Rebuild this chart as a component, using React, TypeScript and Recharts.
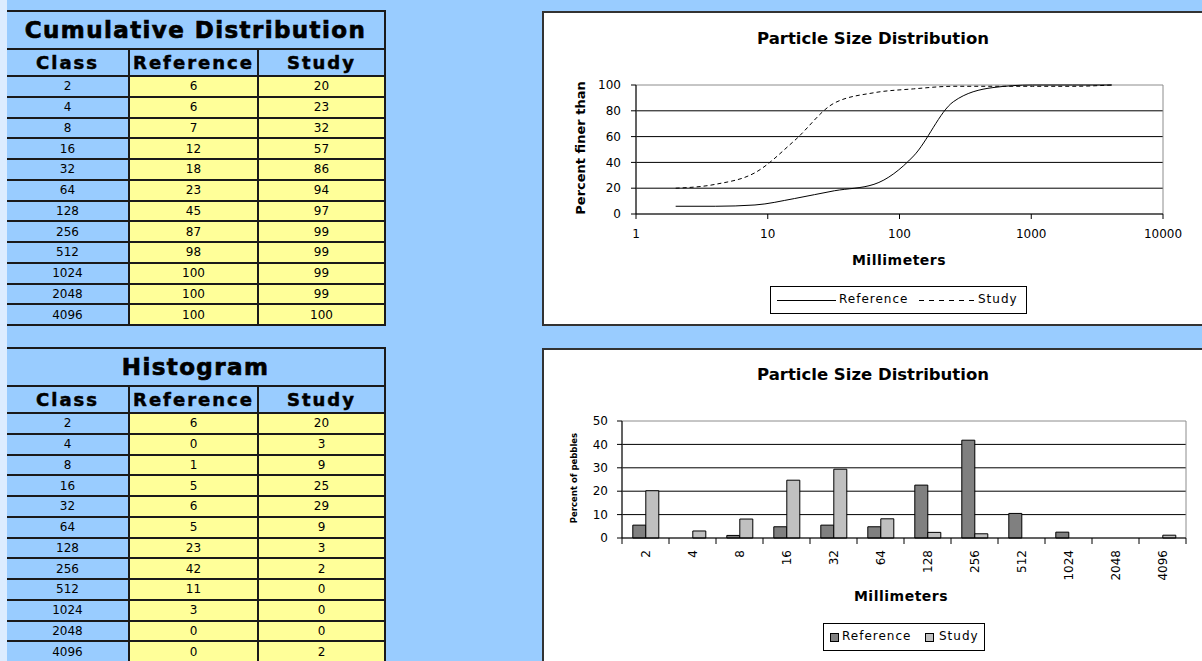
import React from "react";
import {
  LineChart,
  Line,
  BarChart,
  Bar,
  XAxis,
  YAxis,
  CartesianGrid,
  ReferenceArea,
} from "recharts";

const SIZE_CLASSES = [2, 4, 8, 16, 32, 64, 128, 256, 512, 1024, 2048, 4096];

// table values (rounded, as printed in the sheet)
const CUM_REFERENCE = [6, 6, 7, 12, 18, 23, 45, 87, 98, 100, 100, 100];
const CUM_STUDY = [20, 23, 32, 57, 86, 94, 97, 99, 99, 99, 99, 100];
const HIST_REFERENCE = [6, 0, 1, 5, 6, 5, 23, 42, 11, 3, 0, 0];
const HIST_STUDY = [20, 3, 9, 25, 29, 9, 3, 2, 0, 0, 0, 2];

// bar heights as drawn in the histogram chart
const HIST_REFERENCE_BARS = [5.5, 0, 1.1, 4.8, 5.5, 4.8, 22.6, 41.8, 10.5, 2.5, 0, 0];
const HIST_STUDY_BARS = [20.2, 3, 8.1, 24.7, 29.4, 8.2, 2.4, 1.8, 0, 0, 0, 1.2];

const LOG_TICKS = [1, 10, 100, 1000, 10000];
const CUM_Y_TICKS = [0, 20, 40, 60, 80, 100];
const HIST_Y_TICKS = [0, 10, 20, 30, 40, 50];

const BLUE = "#99CCFF";
const YELLOW = "#FFFF99";
const LINE_COL = "#1a1a1a";
const FONT = "'DejaVu Sans', Verdana, sans-serif";

const cumData = SIZE_CLASSES.map((s, i) => ({
  size: s,
  reference: CUM_REFERENCE[i],
  study: CUM_STUDY[i],
}));

const histData = SIZE_CLASSES.map((s, i) => ({
  size: s,
  reference: HIST_REFERENCE_BARS[i],
  study: HIST_STUDY_BARS[i],
}));

function SheetTable({ title, top, refVals, studyVals }: { title: string; top: number; refVals: number[]; studyVals: number[] }) {
  const cols = [123, 129, 127];
  const rowH = 20.75;
  const cell = (bg: string, h: number): React.CSSProperties => ({
    boxSizing: "border-box",
    height: h,
    background: bg,
    borderRight: `2px solid ${LINE_COL}`,
    borderBottom: `2px solid ${LINE_COL}`,
    display: "flex",
    alignItems: "center",
    justifyContent: "center",
  });
  return (
    <div
      style={{
        position: "absolute",
        left: 7,
        top,
        width: 379,
        borderTop: `2px solid ${LINE_COL}`,
        boxSizing: "border-box",
        display: "grid",
        gridTemplateColumns: cols.map((c) => c + "px").join(" "),
        fontFamily: FONT,
      }}
    >
      <div
        style={{
          ...cell(BLUE, 38),
          gridColumn: "1 / span 3",
          fontWeight: 700,
          fontSize: 23,
          letterSpacing: 1.4,
          WebkitTextStroke: "0.7px #000",
        }}
      >
        {title}
      </div>
      {["Class", "Reference", "Study"].map((h) => (
        <div key={h} style={{ ...cell(BLUE, 27), fontWeight: 700, fontSize: 18, letterSpacing: 2, WebkitTextStroke: "0.5px #000" }}>
          {h}
        </div>
      ))}
      {SIZE_CLASSES.map((s, i) => (
        <React.Fragment key={s}>
          <div style={{ ...cell(BLUE, rowH), fontSize: 12 }}>{s}</div>
          <div style={{ ...cell(YELLOW, rowH), fontSize: 12 }}>{refVals[i]}</div>
          <div style={{ ...cell(YELLOW, rowH), fontSize: 12 }}>{studyVals[i]}</div>
        </React.Fragment>
      ))}
    </div>
  );
}

const abs = (left: number, top: number, extra: React.CSSProperties = {}): React.CSSProperties => ({
  position: "absolute",
  left,
  top,
  fontFamily: FONT,
  color: "#000",
  whiteSpace: "nowrap",
  ...extra,
});

function SizeTick(props: any) {
  const { x, y, payload, index } = props;
  const half = payload && typeof payload.offset === "number" ? payload.offset : 23.5;
  const axisY = y - 12;
  const last = index === SIZE_CLASSES.length - 1;
  return (
    <g>
      <line x1={x - half} x2={x - half} y1={axisY} y2={axisY + 6} stroke="#000" />
      {last && <line x1={x + half} x2={x + half} y1={axisY} y2={axisY + 6} stroke="#000" />}
      <text
        x={x}
        y={y}
        transform={`rotate(-90 ${x} ${y})`}
        textAnchor="end"
        dominantBaseline="central"
        fontSize={12}
        fontFamily={FONT}
        fill="#000"
      >
        {payload.value}
      </text>
    </g>
  );
}

const tickStyle = { fill: "#000", fontSize: 12, fontFamily: FONT };

export default function App() {
  return (
    <div
      style={{
        position: "fixed",
        left: 0,
        top: 0,
        width: 1202,
        height: 661,
        overflow: "hidden",
        background: BLUE,
      }}
    >
      <div style={{ position: "absolute", left: 0, top: 0, width: 7, height: 661, background: "#dcecff" }} />

      <SheetTable title="Cumulative Distribution" top={10} refVals={CUM_REFERENCE} studyVals={CUM_STUDY} />
      <SheetTable title="Histogram" top={347} refVals={HIST_REFERENCE} studyVals={HIST_STUDY} />

      {/* cumulative chart */}
      <div style={{ position: "absolute", left: 542, top: 11, width: 700, height: 315, boxSizing: "border-box", border: "2px solid #333", background: "#fff" }} />
      <div style={abs(0, 29, { width: 1746, textAlign: "center", fontWeight: 700, fontSize: 16.5 })}>Particle Size Distribution</div>
      <div style={{ position: "absolute", left: 542, top: 11 }}>
        <LineChart width={660} height={315} data={cumData} margin={{ top: 74, right: 39, bottom: 82, left: 54 }}>
          <CartesianGrid vertical={false} stroke="#000" horizontalValues={[20, 40, 60, 80]} />
          <ReferenceArea x1={1} x2={10000} y1={0} y2={100} fill="none" stroke="#8c8c8c" ifOverflow="visible" />
          <XAxis
            dataKey="size"
            type="number"
            scale="log"
            domain={[1, 10000]}
            ticks={LOG_TICKS}
            allowDataOverflow
            tickSize={5}
            tickMargin={10}
            height={30}
            stroke="#000"
            tick={tickStyle}
          />
          <YAxis
            type="number"
            domain={[0, 100]}
            ticks={CUM_Y_TICKS}
            width={40}
            tickSize={5}
            tickMargin={10}
            stroke="#000"
            tick={tickStyle}
          />
          <Line type="monotone" dataKey="reference" stroke="#000" strokeWidth={1} dot={false} isAnimationActive={false} />
          <Line type="monotone" dataKey="study" stroke="#000" strokeWidth={1} strokeDasharray="4 3" dot={false} isAnimationActive={false} />
        </LineChart>
      </div>
      <div style={abs(580, 148, { transform: "translate(-50%, -50%) rotate(-90deg)", fontWeight: 700, fontSize: 13 })}>
        Percent finer than
      </div>
      <div style={abs(899, 260, { transform: "translate(-50%, -50%)", fontWeight: 700, fontSize: 14, letterSpacing: 0.5 })}>
        Millimeters
      </div>
      <div style={abs(770, 286, { width: 257, height: 28, boxSizing: "border-box", border: "1px solid #000", background: "#fff" })}>
        <svg style={{ position: "absolute", left: 0, top: 0 }} width={255} height={26}>
          <line x1={6} x2={65} y1={13.5} y2={13.5} stroke="#000" strokeWidth={1} />
          <line x1={148} x2={204} y1={13.5} y2={13.5} stroke="#000" strokeWidth={1} strokeDasharray="5 5" />
        </svg>
        <div style={{ position: "absolute", left: 68, top: 5, fontSize: 12, letterSpacing: 1 }}>Reference</div>
        <div style={{ position: "absolute", left: 207, top: 5, fontSize: 12, letterSpacing: 1 }}>Study</div>
      </div>

      {/* histogram chart */}
      <div style={{ position: "absolute", left: 542, top: 348, width: 700, height: 330, boxSizing: "border-box", border: "2px solid #333", background: "#fff" }} />
      <div style={abs(0, 365, { width: 1746, textAlign: "center", fontWeight: 700, fontSize: 16.5 })}>Particle Size Distribution</div>
      <div style={{ position: "absolute", left: 542, top: 348 }}>
        <BarChart
          width={660}
          height={313}
          data={histData}
          margin={{ top: 73, right: 16, bottom: 63, left: 44 }}
          barCategoryGap="23%"
          barGap={0}
        >
          <CartesianGrid vertical={false} stroke="#000" horizontalValues={[10, 20, 30, 40]} />
          <ReferenceArea
            x1={SIZE_CLASSES[0]}
            x2={SIZE_CLASSES[SIZE_CLASSES.length - 1]}
            y1={0}
            y2={50}
            fill="none"
            stroke="#8c8c8c"
            ifOverflow="visible"
          />
          <XAxis
            dataKey="size"
            interval={0}
            tickLine={false}
            tickSize={6}
            tickMargin={6}
            height={60}
            stroke="#000"
            tick={<SizeTick />}
          />
          <YAxis
            type="number"
            domain={[0, 50]}
            ticks={HIST_Y_TICKS}
            width={36}
            tickSize={5}
            tickMargin={9}
            stroke="#000"
            tick={tickStyle}
          />
          <Bar dataKey="reference" fill="#808080" stroke="#000" strokeWidth={1} isAnimationActive={false} />
          <Bar dataKey="study" fill="#C0C0C0" stroke="#000" strokeWidth={1} isAnimationActive={false} />
        </BarChart>
      </div>
      <div style={abs(574, 478, { transform: "translate(-50%, -50%) rotate(-90deg)", fontWeight: 700, fontSize: 8.5 })}>
        Percent of pebbles
      </div>
      <div style={abs(901, 596, { transform: "translate(-50%, -50%)", fontWeight: 700, fontSize: 14, letterSpacing: 0.5 })}>
        Millimeters
      </div>
      <div style={abs(823, 623, { width: 162, height: 28, boxSizing: "border-box", border: "1px solid #000", background: "#fff" })}>
        <div style={{ position: "absolute", left: 6, top: 9, width: 7, height: 7, background: "#808080", border: "1px solid #000" }} />
        <div style={{ position: "absolute", left: 18, top: 5, fontSize: 12, letterSpacing: 1 }}>Reference</div>
        <div style={{ position: "absolute", left: 101, top: 9, width: 7, height: 7, background: "#C0C0C0", border: "1px solid #000" }} />
        <div style={{ position: "absolute", left: 115, top: 5, fontSize: 12, letterSpacing: 1 }}>Study</div>
      </div>
    </div>
  );
}
